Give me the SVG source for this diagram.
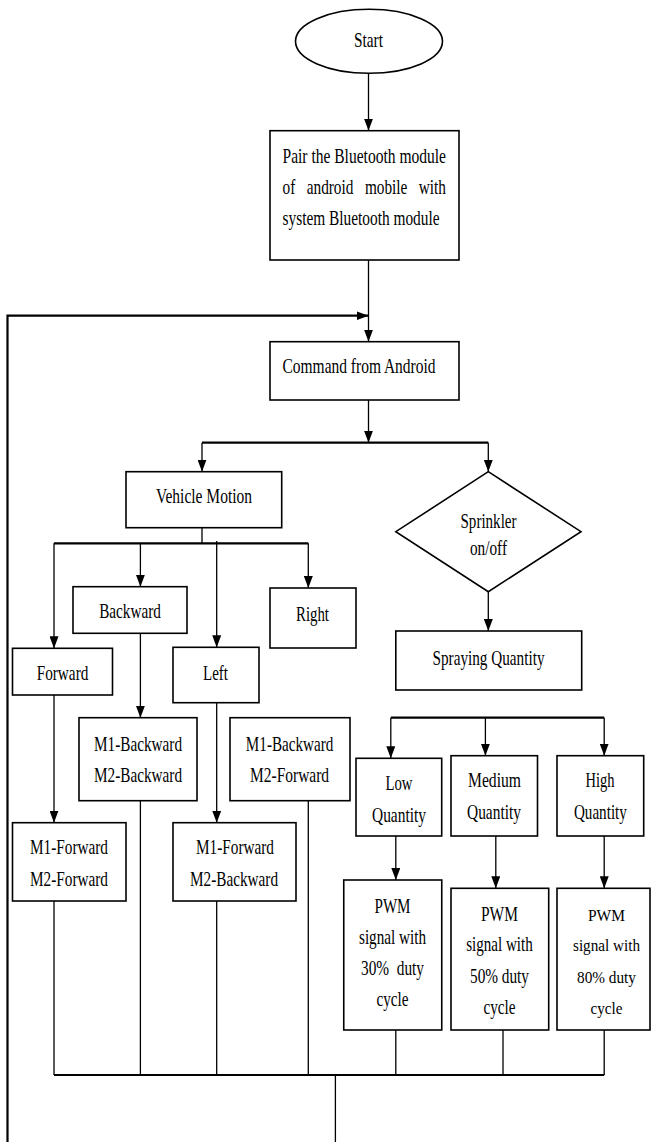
<svg xmlns="http://www.w3.org/2000/svg" width="651" height="1142" viewBox="0 0 651 1142">
<style>
.box{fill:#fff;stroke:#000;stroke-width:1.6}
.ln{stroke:#000;stroke-width:1.3;fill:none}
.thick{stroke-width:2.2}
.t{font-family:"Liberation Serif","Times New Roman",serif;font-size:21px;fill:#000;text-anchor:middle}
.s{text-anchor:start}
.sm{font-size:17.5px}
</style>
<defs>
<marker id="ah" markerUnits="userSpaceOnUse" markerWidth="12" markerHeight="9" refX="12" refY="4.5" orient="auto">
<path d="M0,0 L12,4.5 L0,9 z" fill="#000"/>
</marker>
</defs>
<rect width="651" height="1142" fill="#fff"/>
<g id="connectors">
<path class="ln" d="M368.5,73.3 V130.7" marker-end="url(#ah)"/>
<path class="ln" d="M368.5,260 V341.7" marker-end="url(#ah)"/>
<path class="ln thick" d="M7.5,1142 V315.7 H368.5" marker-end="url(#ah)"/>
<path class="ln" d="M368.5,400 V442.7" marker-end="url(#ah)"/>
<path class="ln thick" d="M202,442.7 H488.3"/>
<path class="ln" d="M202,442.7 V471.7" marker-end="url(#ah)"/>
<path class="ln" d="M488.3,442.7 V471.7" marker-end="url(#ah)"/>
<path class="ln" d="M202,527.7 V543.3"/>
<path class="ln thick" d="M54,543.3 H308.3"/>
<path class="ln" d="M54,543.3 V648.3" marker-end="url(#ah)"/>
<path class="ln" d="M140.4,543.3 V586.7" marker-end="url(#ah)"/>
<path class="ln" d="M216.7,541 V647.3" marker-end="url(#ah)"/>
<path class="ln" d="M308.3,543.3 V588" marker-end="url(#ah)"/>
<path class="ln" d="M488.3,591.7 V631" marker-end="url(#ah)"/>
<path class="ln" d="M140.4,633.3 V717.7" marker-end="url(#ah)"/>
<path class="ln" d="M54,695 V822.7" marker-end="url(#ah)"/>
<path class="ln" d="M216.7,702.7 V822.7" marker-end="url(#ah)"/>
<path class="ln thick" d="M390.8,717.7 H604.2"/>
<path class="ln" d="M390.8,717.7 V758.3" marker-end="url(#ah)"/>
<path class="ln" d="M485.4,717.7 V755.7" marker-end="url(#ah)"/>
<path class="ln" d="M604.2,717.7 V755.7" marker-end="url(#ah)"/>
<path class="ln" d="M395.8,836 V880" marker-end="url(#ah)"/>
<path class="ln" d="M495.8,836 V888.3" marker-end="url(#ah)"/>
<path class="ln" d="M604.2,836 V888.3" marker-end="url(#ah)"/>
<path class="ln" d="M54,901 V1075"/>
<path class="ln" d="M140.4,800.7 V1075"/>
<path class="ln" d="M216.7,901 V1075"/>
<path class="ln" d="M308.3,800.7 V1075"/>
<path class="ln" d="M395.8,1030 V1075"/>
<path class="ln" d="M503,1030 V1075"/>
<path class="ln" d="M604.2,1030 V1075"/>
<path class="ln thick" d="M54,1075 H604.2"/>
<path class="ln" d="M335.4,1075 V1142"/>
</g>
<g id="start">
<ellipse class="box" cx="369" cy="41.3" rx="73.5" ry="32"/>
<text class="t" x="368.5" y="47" textLength="29" lengthAdjust="spacingAndGlyphs">Start</text>
</g>
<g id="pair">
<rect class="box" x="270" y="130.7" width="189" height="129.3"/>
<text class="t s" x="282.5" y="163" textLength="163.5" lengthAdjust="spacingAndGlyphs">Pair the Bluetooth module</text>
<text class="t s" x="282.5" y="194" textLength="163.5" lengthAdjust="spacingAndGlyphs" style="word-spacing:10.5px">of android mobile with</text>
<text class="t s" x="282.5" y="225" textLength="157" lengthAdjust="spacingAndGlyphs">system Bluetooth module</text>
</g>
<g id="command">
<rect class="box" x="270" y="341.7" width="189" height="58.3"/>
<text class="t s" x="282.5" y="373" textLength="153" lengthAdjust="spacingAndGlyphs">Command from Android</text>
</g>
<g id="vehicle">
<rect class="box" x="126" y="471.7" width="155.7" height="56"/>
<text class="t s" x="156" y="502.7" textLength="96" lengthAdjust="spacingAndGlyphs">Vehicle Motion</text>
</g>
<g id="sprinkler">
<polygon class="box" points="488.3,471.7 581,531.7 488.3,591.7 395.8,531.7"/>
<text class="t" x="488.5" y="528" textLength="56" lengthAdjust="spacingAndGlyphs">Sprinkler</text>
<text class="t" x="488.5" y="555" textLength="37" lengthAdjust="spacingAndGlyphs">on/off</text>
</g>
<g id="backward">
<rect class="box" x="73" y="586.7" width="114" height="46.6"/>
<text class="t" x="130" y="618.3" textLength="61.7" lengthAdjust="spacingAndGlyphs">Backward</text>
</g>
<g id="right">
<rect class="box" x="270" y="588" width="86" height="60"/>
<text class="t" x="312.5" y="620.7" textLength="33" lengthAdjust="spacingAndGlyphs">Right</text>
</g>
<g id="forward">
<rect class="box" x="12.5" y="648.3" width="100" height="46.7"/>
<text class="t" x="62.5" y="680" textLength="51.7" lengthAdjust="spacingAndGlyphs">Forward</text>
</g>
<g id="left">
<rect class="box" x="173" y="647.3" width="86" height="55.4"/>
<text class="t" x="215.5" y="680" textLength="25" lengthAdjust="spacingAndGlyphs">Left</text>
</g>
<g id="spraying">
<rect class="box" x="395.8" y="631" width="185.9" height="59"/>
<text class="t" x="488.5" y="665" textLength="112" lengthAdjust="spacingAndGlyphs">Spraying Quantity</text>
</g>
<g id="m1b-m2b">
<rect class="box" x="79" y="717.7" width="118" height="83"/>
<text class="t" x="138" y="750.7" textLength="88" lengthAdjust="spacingAndGlyphs">M1-Backward</text>
<text class="t" x="138" y="781.7" textLength="88" lengthAdjust="spacingAndGlyphs">M2-Backward</text>
</g>
<g id="m1b-m2f">
<rect class="box" x="230" y="717.7" width="120" height="83"/>
<text class="t" x="289.6" y="750.7" textLength="87.5" lengthAdjust="spacingAndGlyphs">M1-Backward</text>
<text class="t" x="289.6" y="781.7" textLength="79" lengthAdjust="spacingAndGlyphs">M2-Forward</text>
</g>
<g id="m1f-m2f">
<rect class="box" x="12.5" y="822.7" width="113.5" height="78.3"/>
<text class="t" x="69" y="854" textLength="78" lengthAdjust="spacingAndGlyphs">M1-Forward</text>
<text class="t" x="69" y="886" textLength="78" lengthAdjust="spacingAndGlyphs">M2-Forward</text>
</g>
<g id="m1f-m2b">
<rect class="box" x="173" y="822.7" width="123" height="78.3"/>
<text class="t" x="235" y="854" textLength="78" lengthAdjust="spacingAndGlyphs">M1-Forward</text>
<text class="t" x="234" y="886" textLength="88" lengthAdjust="spacingAndGlyphs">M2-Backward</text>
</g>
<g id="low">
<rect class="box" x="356" y="758.3" width="85.7" height="77.7"/>
<text class="t" x="399" y="790" textLength="27" lengthAdjust="spacingAndGlyphs">Low</text>
<text class="t" x="399" y="821.7" textLength="54" lengthAdjust="spacingAndGlyphs">Quantity</text>
</g>
<g id="medium">
<rect class="box" x="451" y="755.7" width="86.5" height="80.3"/>
<text class="t" x="494.5" y="787.3" textLength="53" lengthAdjust="spacingAndGlyphs">Medium</text>
<text class="t" x="494" y="819.3" textLength="54" lengthAdjust="spacingAndGlyphs">Quantity</text>
</g>
<g id="high">
<rect class="box" x="557" y="755.7" width="86.7" height="80.3"/>
<text class="t" x="600" y="787" textLength="29" lengthAdjust="spacingAndGlyphs">High</text>
<text class="t" x="600.4" y="819" textLength="53" lengthAdjust="spacingAndGlyphs">Quantity</text>
</g>
<g id="pwm30">
<rect class="box" x="343.75" y="880" width="98" height="150"/>
<text class="t" x="392.5" y="912.7" textLength="36" lengthAdjust="spacingAndGlyphs">PWM</text>
<text class="t" x="392.5" y="944" textLength="67" lengthAdjust="spacingAndGlyphs">signal with</text>
<text class="t" x="392.5" y="975" textLength="63" lengthAdjust="spacingAndGlyphs" xml:space="preserve">30%  duty</text>
<text class="t" x="392.5" y="1006" textLength="32" lengthAdjust="spacingAndGlyphs">cycle</text>
</g>
<g id="pwm50">
<rect class="box" x="451" y="888.3" width="97.7" height="141.7"/>
<text class="t" x="499.5" y="920.7" textLength="37" lengthAdjust="spacingAndGlyphs">PWM</text>
<text class="t" x="499.5" y="951" textLength="66.5" lengthAdjust="spacingAndGlyphs">signal with</text>
<text class="t" x="499.5" y="983.3" textLength="59" lengthAdjust="spacingAndGlyphs">50% duty</text>
<text class="t" x="499.5" y="1014" textLength="32" lengthAdjust="spacingAndGlyphs">cycle</text>
</g>
<g id="pwm80">
<rect class="box" x="557" y="888.3" width="93" height="141.7"/>
<text class="t sm" x="606.5" y="920.7" textLength="37" lengthAdjust="spacingAndGlyphs">PWM</text>
<text class="t sm" x="606.5" y="951" textLength="67" lengthAdjust="spacingAndGlyphs">signal with</text>
<text class="t sm" x="606.5" y="983.3" textLength="59" lengthAdjust="spacingAndGlyphs">80% duty</text>
<text class="t sm" x="606.5" y="1014" textLength="32" lengthAdjust="spacingAndGlyphs">cycle</text>
</g>
</svg>
